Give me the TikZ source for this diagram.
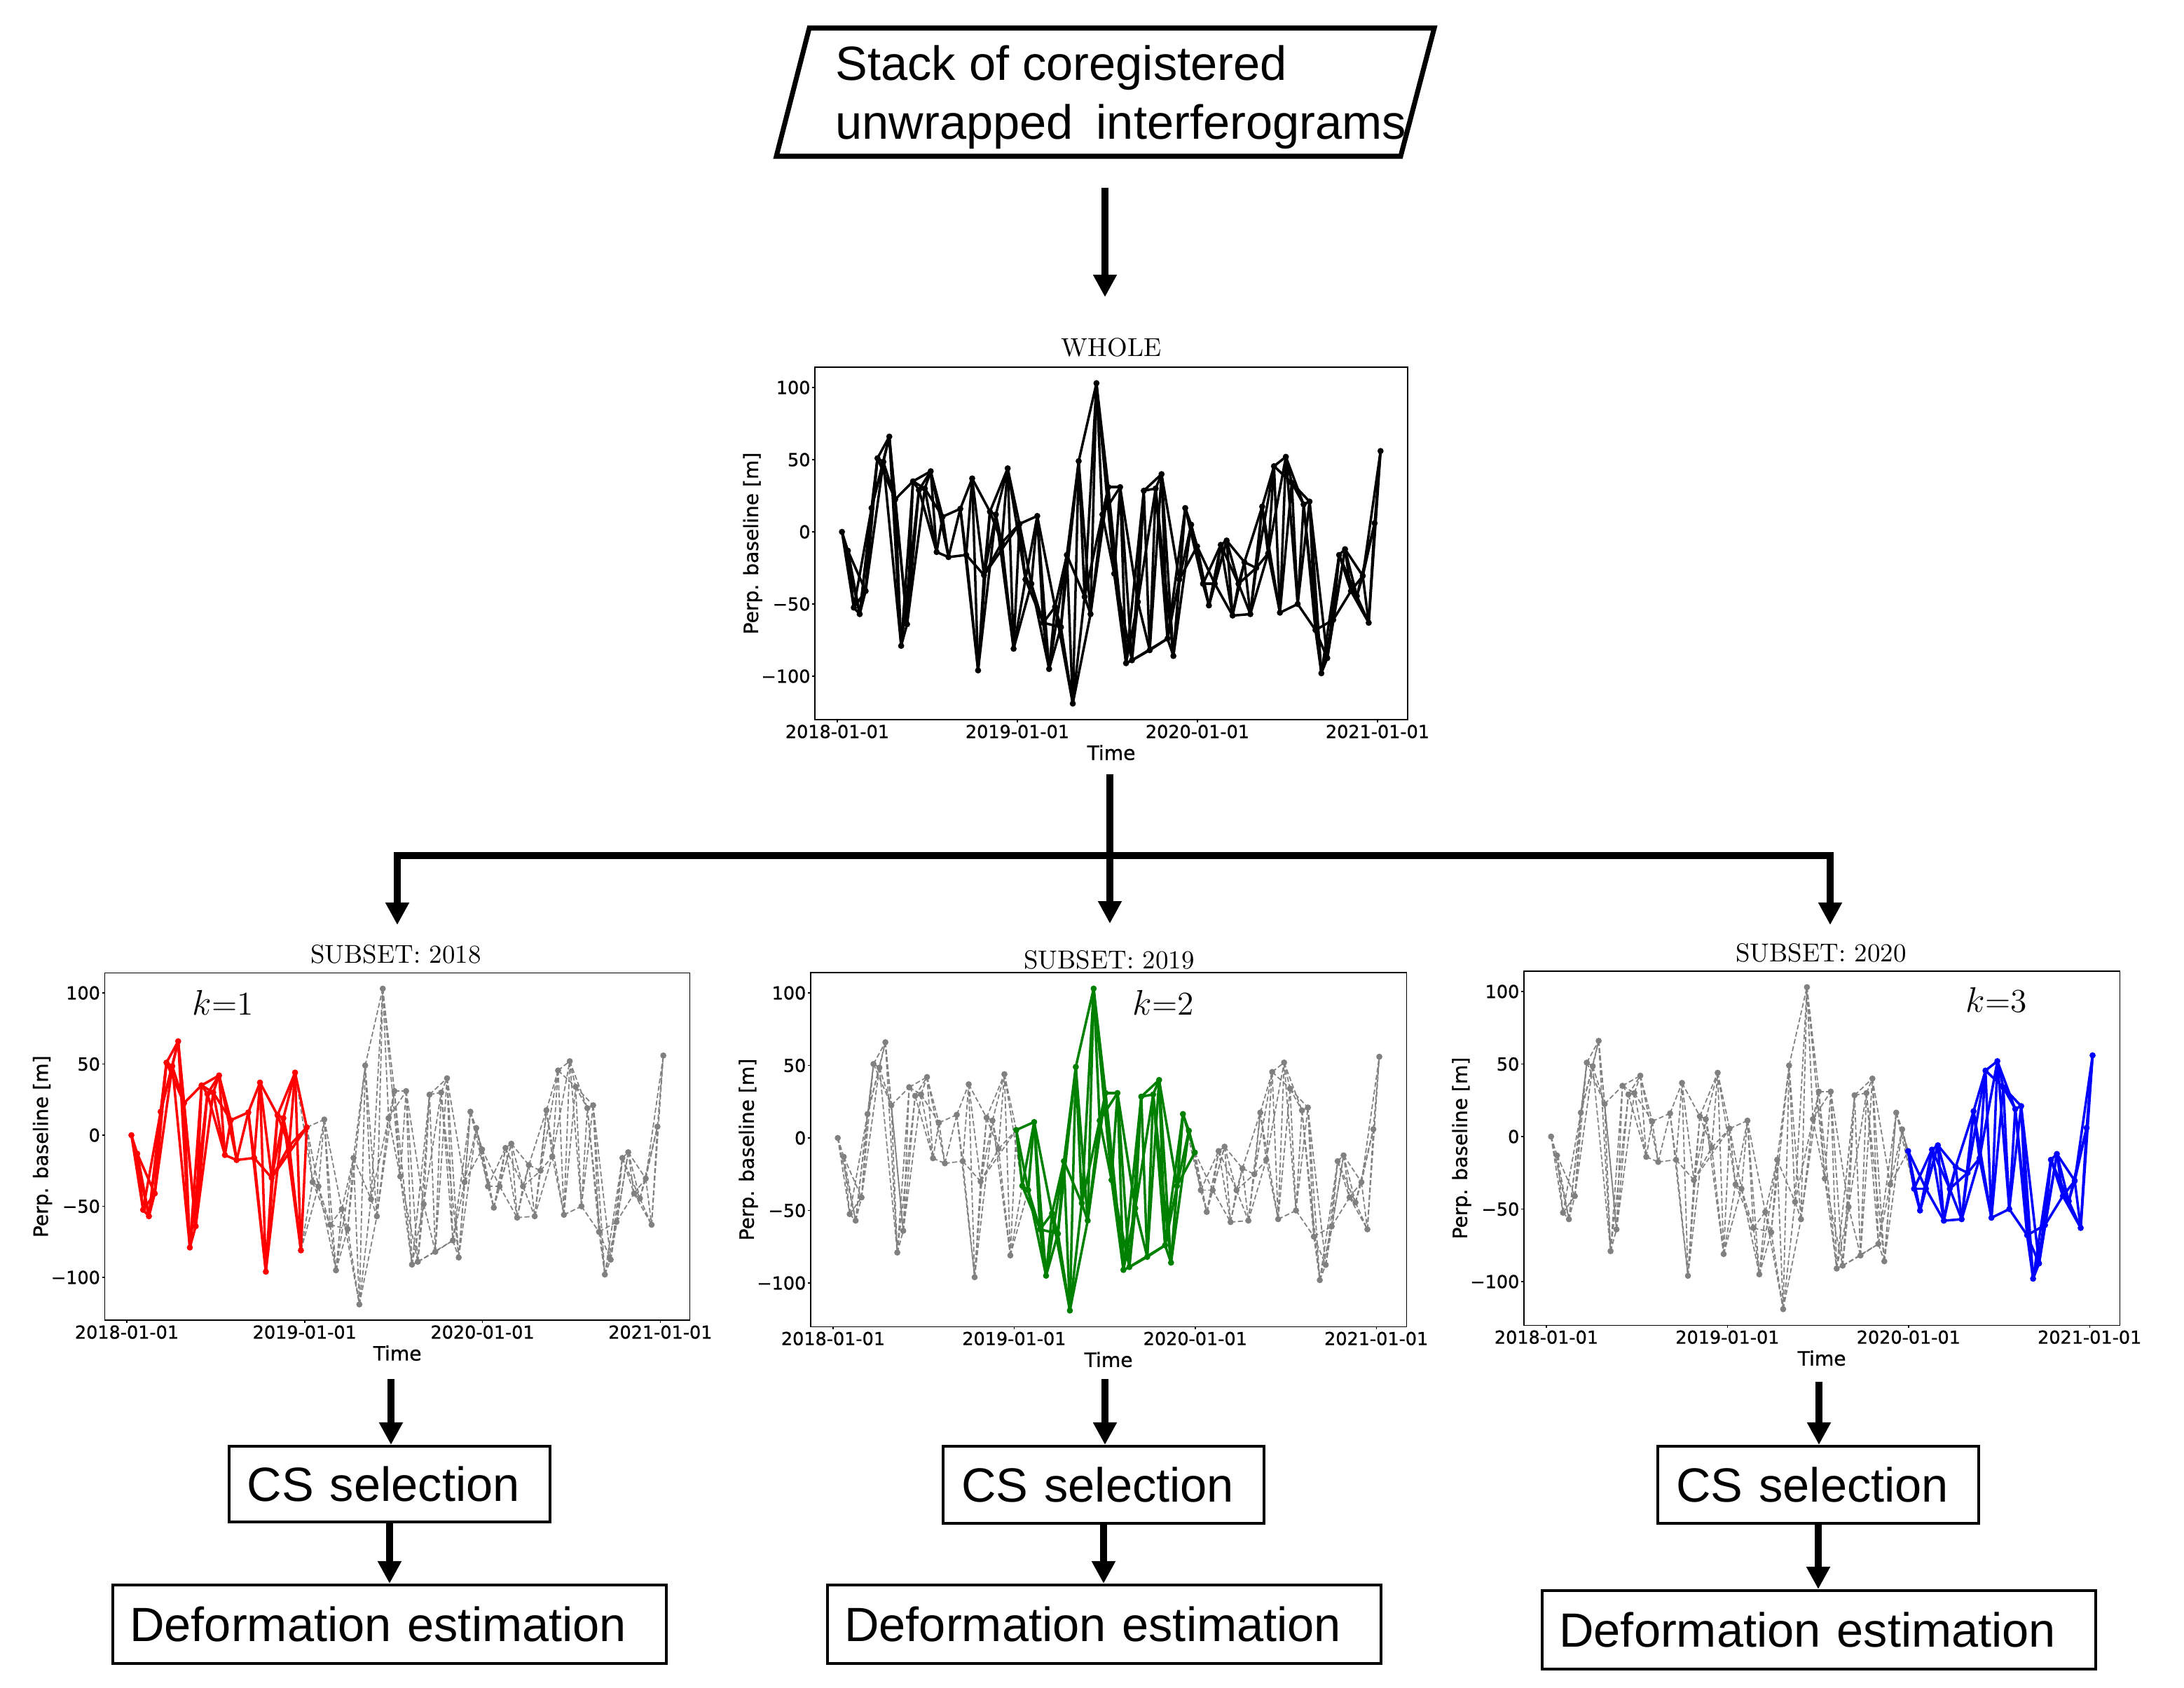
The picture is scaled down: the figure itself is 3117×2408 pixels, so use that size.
\documentclass[tikz,border=0pt]{standalone}
\usepackage{fontspec}
\newfontfamily\arialf{Liberation Sans}
\newfontfamily\djv{DejaVu Sans}[FakeBold=0.8]
\usetikzlibrary{arrows.meta}

\definecolor{mgray}{RGB}{128,128,128}
\definecolor{mgreen}{RGB}{0,128,0}
\definecolor{mred}{RGB}{255,0,0}
\definecolor{mblue}{RGB}{0,0,255}

% perpendicular baselines, index i = 12-day step (index 19 unused)
\def\Bv{{0,-13,-52.5,-57,-41,16.5,51,48.5,66,22.5,-79,-64,35,29,30,42,-14,10.5,-17.5,0,16,-16,37,-96,-30,14,12,-7.5,44,-81,5.5,-33,-36,11,-63,-95,-52,-66,-16,-119,49,-45,-57,103,12,31,-29,31,-91,-89,-48.5,28.5,-82,30,40,-74,-86,-33,16.5,5,-10,-36,-51,-36,-9,-6,-58,-36,-21,-57,-25,17.5,-15,45.5,-56,52,34,-50,19,21,-68,-98,-87.5,-61,-16,-12,-41,-44.5,-30.5,-63,6,56}}

% #1 name, #2 x of 2018-01-01, #3 px per year, #4 y of zero, #5 px per metre
\newcommand\netcoords[5]{%
  \foreach \i in {0,...,91}{%
    \pgfmathsetmacro\xx{#2+(0.0258+0.03287*\i)*#3}%
    \pgfmathsetmacro\yy{#4-(\Bv[\i])*#5}%
    \coordinate (#1p\i) at (\xx,\yy);
  }%
}
% #1 name, #2 lo, #3 hi, #4 mode (1 inside subset, 0 outside), #5 style
\newcommand\netedges[5]{%
  \foreach \i in {0,...,90}{%
    \foreach \d in {1,2,3}{%
      \pgfmathtruncatemacro\j{\i+\d}%
      \pgfmathtruncatemacro\ok{(\j<92)&&(\i!=19)&&(\j!=19)}%
      \ifnum\ok=1
        \pgfmathtruncatemacro\ins{(\i>=#2)&&(\j<=#3)}%
        \ifnum\ins=#4 \draw[#5] (#1p\i) -- (#1p\j);\fi
      \fi
    }%
  }%
  \foreach \a/\b in {24/30,49/55}{%
    \pgfmathtruncatemacro\ins{(\a>=#2)&&(\b<=#3)}%
    \ifnum\ins=#4 \draw[#5] (#1p\a) -- (#1p\b);\fi
  }%
}
\newcommand\netdots[5]{%
  \foreach \i in {0,...,91}{%
    \ifnum\i=19 \else
      \pgfmathtruncatemacro\ins{(\i>=#2)&&(\i<=#3)}%
      \ifnum\ins=#4 \node[#5] (#1d\i) at (#1p\i) {};\fi
    \fi
  }%
}
\newcommand\netaxes[5]{%
  \pgfmathsetmacro\bxL{#2-0.1238*#3}%
  \pgfmathsetmacro\bxR{#2+3.1666*#3}%
  \pgfmathsetmacro\bxT{#4-114.1*#5}%
  \pgfmathsetmacro\bxB{#4+130.1*#5}%
  \pgfmathsetmacro\bxC{(\bxL+\bxR)/2}%
  \pgfmathsetmacro\bxM{(\bxT+\bxB)/2}%
  \draw[axline] (\bxL,\bxT) rectangle (\bxR,\bxB);
  \foreach \k/\lab in {0/2018-01-01,1/2019-01-01,2/2020-01-01,3/2021-01-01}{%
    \pgfmathsetmacro\xx{#2+\k*#3}%
    \draw[axline] (\xx,\bxB) -- ++(0,4);
    \node[ticklab] (#1xl\k) at (\xx,\bxB+17) {\lab};
  }%
  \foreach \v/\lab in {100/100,50/50,0/0,-50/−50,-100/−100}{%
    \pgfmathsetmacro\yy{#4-\v*#5}%
    \draw[axline] (\bxL,\yy) -- ++(-4,0);
    \node[ticklab,anchor=east] (#1yl\v) at (\bxL-6,\yy) {\lab};
  }%
  \node[axlab] (#1time) at (\bxC,\bxB+47) {Time};
  \node[axlab,rotate=90] (#1ylab) at (\bxL-89,\bxM) {Perp. baseline [m]};
}

\begin{document}
\begin{tikzpicture}[x=0.01cm,y=-0.01cm,
  axline/.style={line width=0.4pt,black},
  ticklab/.style={inner sep=0,font=\djv\fontsize{7.25pt}{8pt}\selectfont},
  axlab/.style={inner sep=0,font=\djv\fontsize{8pt}{9pt}\selectfont},
  ttl/.style={inner sep=0,font=\fontsize{10.5pt}{12pt}\selectfont},
  klab/.style={inner sep=0,font=\fontsize{13.5pt}{15pt}\selectfont},
  bigtxt/.style={inner sep=0,font=\arialf\fontsize{19.5pt}{23pt}\selectfont},
  flowbox/.style={draw,line width=1.15pt,align=left,font=\arialf\fontsize{19.5pt}{23pt}\selectfont},
  flow/.style={line width=2.85pt,-{Triangle[width=9.1pt,length=9.1pt]}},
  flowboth/.style={line width=2.85pt,{Triangle[width=9.1pt,length=9.1pt]}-{Triangle[width=9.1pt,length=9.1pt]}},
  netline/.style={line width=1pt},
  grayline/.style={line width=0.5pt,mgray,dash pattern=on 2pt off 1pt},
  ndot/.style={circle,inner sep=0,minimum size=2.5pt,fill=#1},
]
\useasboundingbox (0,0) rectangle (3117,2408);

% ---- input parallelogram
\coordinate (pTL) at (1155,40);
\coordinate (pTR) at (2047,40);
\coordinate (pBR) at (1999,223);
\coordinate (pBL) at (1108,223);
\draw[line width=2pt,line join=miter] (pTL) -- (pTR) -- (pBR) -- (pBL) -- cycle;
\node[bigtxt,anchor=base west] (stack1) at (1192,114) {Stack of coregistered};
\node[bigtxt,anchor=base west] (stack2) at (1192,198) {unwrapped\hspace{0.2em} interferograms};

\coordinate (a0s) at (1577,268);
\coordinate (a0e) at (1577,424);
\draw[flow] (a0s) -- (a0e);

% ---- WHOLE
\node[ttl] (tW) at (1586,496) {WHOLE};
\netaxes{w}{1195}{257}{759}{2.06}
\netcoords{w}{1195}{257}{759}{2.06}
\netedges{w}{0}{91}{1}{netline,black}
\netdots{w}{0}{91}{1}{ndot=black}

% ---- fork
\coordinate (wout) at (1584,1105);
\coordinate (jl) at (567,1221);
\coordinate (jr) at (2612,1221);
\coordinate (tl) at (567,1320);
\coordinate (tm) at (1584,1318);
\coordinate (tr) at (2612,1320);
\draw[flow] (wout) -- (tm);
\draw[flowboth,line join=miter] (tl) -- (jl) -- (jr) -- (tr);

% ---- SUBSET 2018
\node[ttl] (t18) at (565,1362) {SUBSET: 2018};
\netaxes{a}{181}{253.8}{1620}{2.03}
\netcoords{a}{181}{253.8}{1620}{2.03}
\netedges{a}{0}{30}{0}{grayline}
\netdots{a}{0}{30}{0}{ndot=mgray}
\netedges{a}{0}{30}{1}{netline,mred}
\netdots{a}{0}{30}{1}{ndot=mred}
\node[klab] (k1) at (318,1431) {$k$=1};

% ---- SUBSET 2019
\node[ttl] (t19) at (1583,1370) {SUBSET: 2019};
\netaxes{b}{1189}{258.4}{1624}{2.07}
\netcoords{b}{1189}{258.4}{1624}{2.07}
\netedges{b}{30}{60}{0}{grayline}
\netdots{b}{30}{60}{0}{ndot=mgray}
\netedges{b}{30}{60}{1}{netline,mgreen}
\netdots{b}{30}{60}{1}{ndot=mgreen}
\node[klab] (k2) at (1660,1431) {$k$=2};

% ---- SUBSET 2020
\node[ttl] (t20) at (2599,1360) {SUBSET: 2020};
\netaxes{c}{2207}{258.4}{1622}{2.07}
\netcoords{c}{2207}{258.4}{1622}{2.07}
\netedges{c}{60}{91}{0}{grayline}
\netdots{c}{60}{91}{0}{ndot=mgray}
\netedges{c}{60}{91}{1}{netline,mblue}
\netdots{c}{60}{91}{1}{ndot=mblue}
\node[klab] (k3) at (2849,1427) {$k$=3};

% ---- CS selection boxes
\node[flowbox,minimum height=1.08cm,text width=4.06cm,inner xsep=0.26cm] (cs1) at (556,2118) {CS selection};
\node[flowbox,minimum height=1.10cm,text width=4.05cm,inner xsep=0.26cm] (cs2) at (1575,2119) {CS selection};
\node[flowbox,minimum height=1.10cm,text width=4.05cm,inner xsep=0.26cm] (cs3) at (2595,2119) {CS selection};

% ---- Deformation boxes
\node[flowbox,minimum height=1.12cm,text width=7.41cm,inner xsep=0.24cm] (df1) at (556,2318) {Deformation estimation};
\node[flowbox,minimum height=1.12cm,text width=7.41cm,inner xsep=0.24cm] (df2) at (1576,2318) {Deformation estimation};
\node[flowbox,minimum height=1.12cm,text width=7.41cm,inner xsep=0.24cm] (df3) at (2596,2326) {Deformation estimation};

% ---- arrows plots -> CS -> deformation
\coordinate (s1) at (558,1968);
\coordinate (s2) at (1577,1968);
\coordinate (s3) at (2596,1972);
\draw[flow] (s1) -- (s1 |- cs1.north);
\draw[flow] (s2) -- (s2 |- cs2.north);
\draw[flow] (s3) -- (s3 |- cs3.north);
\draw[flow] (cs1.south) -- (cs1.south |- df1.north);
\draw[flow] (cs2.south) -- (cs2.south |- df2.north);
\draw[flow] (cs3.south) -- (cs3.south |- df3.north);
\end{tikzpicture}
\end{document}
